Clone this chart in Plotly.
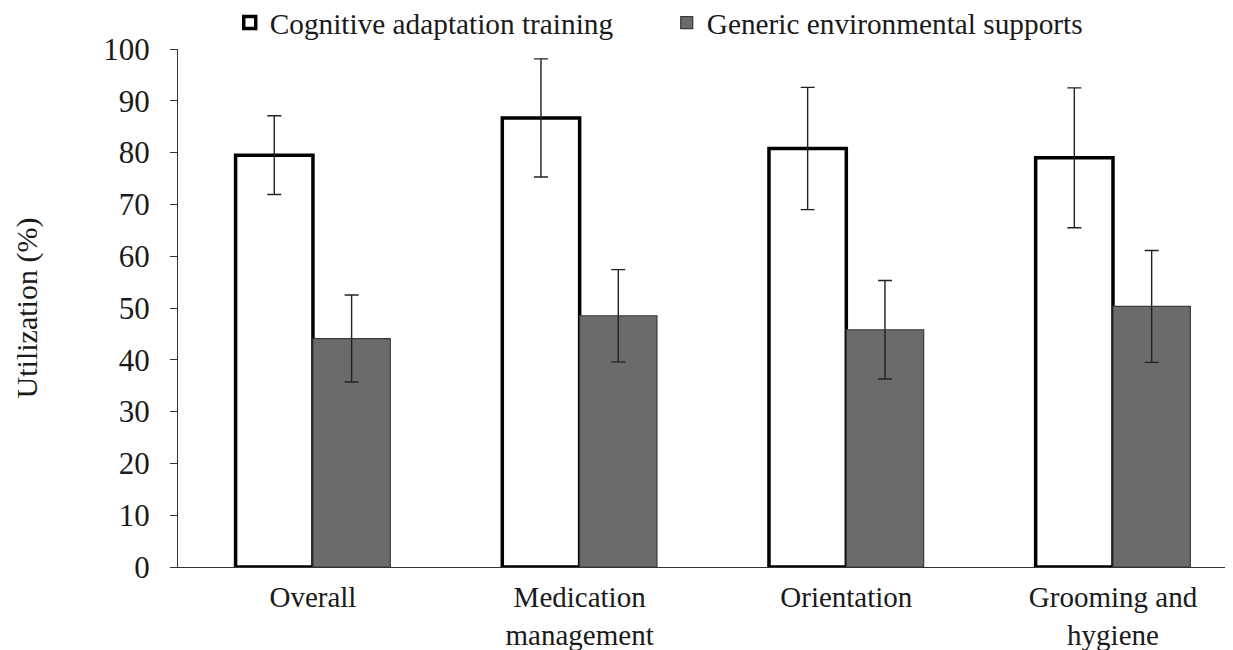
import plotly.graph_objects as go

categories = ["Overall", "Medication<br>management", "Orientation", "Grooming and<br>hygiene"]
cat_values = [79.5, 86.7, 80.8, 79.0]
cat_errors = [7.6, 11.4, 11.8, 13.5]
ges_values = [44.1, 48.5, 45.8, 50.3]
ges_errors = [8.4, 8.9, 9.5, 10.8]
y_ticks = [0, 10, 20, 30, 40, 50, 60, 70, 80, 90, 100]

FONT = "Liberation Serif"

fig = go.Figure()
fig.add_trace(go.Bar(
    name="Cognitive adaptation training",
    x=categories, y=cat_values,
    marker=dict(color="white", line=dict(color="black", width=3.5)),
    error_y=dict(type="data", array=cat_errors, visible=True,
                 color="#222222", thickness=1.4, width=7),
))
fig.add_trace(go.Bar(
    name="Generic environmental supports",
    x=categories, y=ges_values,
    marker=dict(color="#6b6b6b", line=dict(color="#3a3a3a", width=1.2)),
    error_y=dict(type="data", array=ges_errors, visible=True,
                 color="#222222", thickness=1.4, width=7),
))

# page body has an 8px margin, so the figure is sized to fit inside the viewport
fig.update_layout(
    width=1225, height=642,
    margin=dict(l=170, r=0, t=41, b=83, autoexpand=False),
    paper_bgcolor="white", plot_bgcolor="white",
    barmode="group", bargap=0.42, bargroupgap=0,
    font=dict(family=FONT, color="#1a1a1a"),
    showlegend=True,
    legend=dict(orientation="h", xref="container", yref="container",
                x=0.181, xanchor="left", y=0.9766, yanchor="middle",
                font=dict(family=FONT, size=29.3, color="#1a1a1a"),
                entrywidth=392, entrywidthmode="pixels",
                itemwidth=30, tracegroupgap=0, bgcolor="rgba(0,0,0,0)"),
    xaxis=dict(range=[-0.506, 3.45], showline=True, linecolor="#333333", linewidth=1.3,
               ticks="", showgrid=False, zeroline=False,
               tickfont=dict(family=FONT, size=29, color="#1a1a1a"),
               ticklabelstandoff=4),
    yaxis=dict(range=[0, 100], tickvals=y_ticks, showline=True, linecolor="#333333",
               linewidth=1.3, ticks="outside", ticklen=7, tickcolor="#333333",
               tickwidth=1.3, showgrid=False, zeroline=False,
               tickfont=dict(family=FONT, size=31, color="#1a1a1a"),
               ticklabelstandoff=14,
               title=dict(text="Utilization (%)", standoff=56,
                          font=dict(family=FONT, size=30, color="#1a1a1a"))),
)

fig.write_html("out.html")
